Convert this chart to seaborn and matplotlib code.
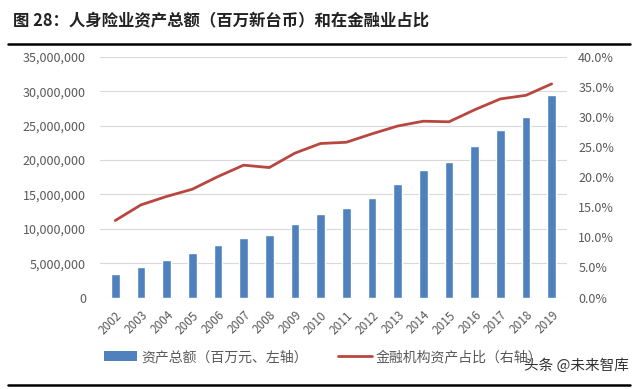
import numpy as np
import pandas as pd
import matplotlib
matplotlib.use("Agg")
import matplotlib.pyplot as plt
import matplotlib.ticker as mtick
from matplotlib.patches import Patch
from matplotlib.lines import Line2D
import seaborn as sns

# datos
anios = ["2002", "2003", "2004", "2005", "2006", "2007", "2008", "2009", "2010",
         "2011", "2012", "2013", "2014", "2015", "2016", "2017", "2018", "2019"]
activos = [3440000, 4500000, 5470000, 6450000, 7700000, 8670000, 9100000, 10700000, 12100000,
           13070000, 14430000, 16550000, 18500000, 19660000, 22070000, 24300000, 26240000, 29400000]
participacion = [12.8, 15.4, 16.8, 18.0, 20.1, 22.0, 21.6, 24.0, 25.6,
                 25.8, 27.2, 28.5, 29.3, 29.2, 31.2, 33.0, 33.6, 35.5]

etiqueta_barra = "资产总额（百万元、左轴）"
etiqueta_linea = "金融机构资产占比（右轴）"
titulo = "图 28：人身险业资产总额（百万新台币）和在金融业占比"

sns.set_theme(style="white")
plt.rcParams['font.family'] = ['Noto Sans CJK SC', 'DejaVu Sans']

azul = "#4F81BD"
rojo = "#B9473F"
gris = "#595959"

df = pd.DataFrame({"anio": anios, "activos": activos, "pct": participacion})

fig = plt.figure(figsize=(6.4, 3.89), dpi=100)
ax = fig.add_axes([0.156, 0.235, 0.730, 0.619])

sns.barplot(data=df, x="anio", y="activos", color=azul, width=0.34,
            saturation=1, ax=ax)
ax.set_ylim(0, 35000000)
ax.yaxis.set_major_locator(mtick.MultipleLocator(5000000))
ax.yaxis.set_major_formatter(mtick.FuncFormatter(lambda v, p: f"{int(v):,}"))
ax.grid(axis="y", color="#D9D9D9", linewidth=0.8)
ax.set_axisbelow(True)
ax.set_xlabel("")
ax.set_ylabel("")
for s in ax.spines.values():
    s.set_visible(False)
ax.tick_params(axis="y", labelsize=9, colors=gris, length=0, pad=10)
ax.tick_params(axis="x", labelsize=8.5, colors=gris, length=0, pad=8)
plt.setp(ax.get_xticklabels(), rotation=45, ha="right", rotation_mode="anchor")
ax.set_xlim(-0.6, len(anios) - 0.4)

ax2 = ax.twinx()
sns.lineplot(x=np.arange(len(anios)), y=df["pct"], color=rojo, linewidth=2, ax=ax2)
ax2.set_ylim(0, 40)
ax2.yaxis.set_major_locator(mtick.MultipleLocator(5))
ax2.yaxis.set_major_formatter(mtick.FuncFormatter(lambda v, p: f"{v:.1f}%"))
ax2.tick_params(axis="y", labelsize=9, colors=gris, length=0, pad=8)
ax2.set_ylabel("")
ax2.grid(False)
for s in ax2.spines.values():
    s.set_visible(False)

# leyenda
handles = [Patch(facecolor=azul, edgecolor="none"),
           Line2D([0], [0], color=rojo, linewidth=2)]
fig.legend(handles, [etiqueta_barra, etiqueta_linea], loc="center",
           bbox_to_anchor=(0.505, 0.082), ncol=2, frameon=False, fontsize=10,
           labelcolor=gris, handlelength=2.4, columnspacing=2.2, handletextpad=0.3)

# titulo y lineas
fig.text(0.02, 0.945, titulo, fontsize=11.8, fontweight="bold", color="#222222",
         va="center", ha="left")
fig.add_artist(Line2D([0.013, 0.985], [0.887, 0.887], color="black", linewidth=1.8))
fig.add_artist(Line2D([0.013, 0.985], [0.01, 0.01], color="black", linewidth=1.8))
fig.text(0.982, 0.06, "头条 @未来智库", fontsize=10.5, color="#333333",
         ha="right", va="center")

fig.savefig("out.png", dpi=100)
